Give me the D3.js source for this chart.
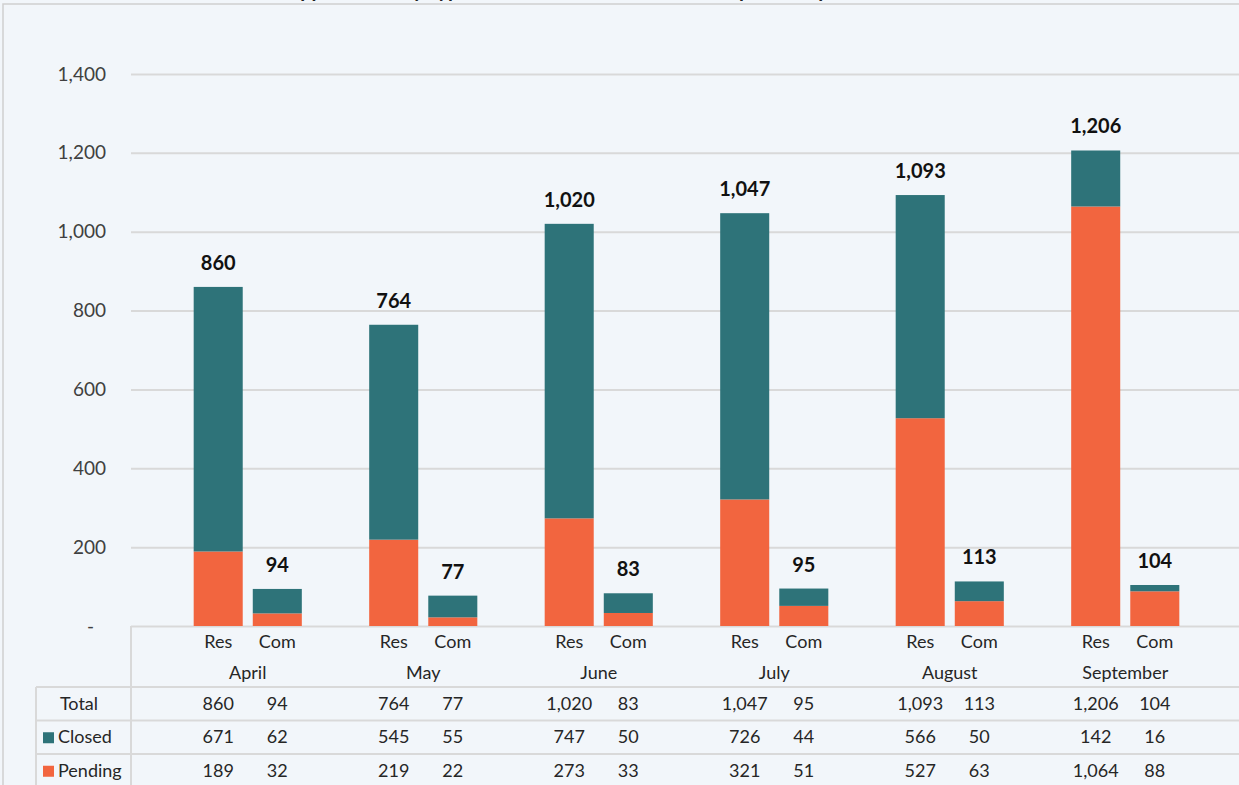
<html>
  <head>
    <meta charset="utf-8">
    <title>Residential vs Commercial by month</title>
    <style>
      body {
        margin: 0;
        background: #f2f6fa;
      }
      svg text {
        font-family: Lato, "Open Sans", sans-serif;
      }
    </style>
    <script src="https://d3js.org/d3.v7.min.js"></script>
  </head>
  <body>
    <svg id="chart"></svg>
    <script>
      // values
      let months = ['April', 'May', 'June', 'July', 'August', 'September'];
      let types = ['Res', 'Com'];
      let closedRes = [671, 545, 747, 726, 566, 142];
      let closedCom = [62, 55, 50, 44, 50, 16];
      let pendingRes = [189, 219, 273, 321, 527, 1064];
      let pendingCom = [32, 22, 33, 51, 63, 88];
      let yTicks = [0, 200, 400, 600, 800, 1000, 1200, 1400];
      let seriesNames = ['Pending', 'Closed'];

      let width = 1239;
      let height = 785;
      let plotLeft = 131;
      let plotTop = 74;
      let plotBottom = 626;
      let lineColor = '#d9d9d9';
      let colors = { Closed: '#2e7379', Pending: '#f2653f' };

      let svg = d3.select('#chart')
        .attr('width', width)
        .attr('height', height);

      // outer frame of the chart area (top and left edges visible)
      svg.append('path')
        .attr('d', `M3,${height} V4 H${width}`)
        .attr('fill', 'none')
        .attr('stroke', '#d0d0d0')
        .attr('stroke-width', 1.5);

      // title, mostly cut off above the picture
      svg.append('text')
        .attr('x', 590)
        .attr('y', -3)
        .attr('text-anchor', 'middle')
        .style('font-weight', 'bold')
        .style('font-size', '20px')
        .attr('fill', '#222')
        .text('Applications by Type, Residential vs. Commercial, April to September');

      // one row per bar: month + type, with closed / pending parts
      let rows = [];
      months.forEach((m, i) => {
        rows.push({ month: m, type: 'Res', Closed: closedRes[i], Pending: pendingRes[i] });
        rows.push({ month: m, type: 'Com', Closed: closedCom[i], Pending: pendingCom[i] });
      });
      rows.forEach(r => { r.total = r.Closed + r.Pending; });

      let x0 = d3.scaleBand()
        .domain(months)
        .range([160, 1213]);
      let x1 = d3.scaleBand()
        .domain(types)
        .range([0, x0.bandwidth()])
        .paddingInner(0.17)
        .paddingOuter(0.57);
      let y = d3.scaleLinear()
        .domain([0, 1400])
        .range([plotBottom, plotTop]);

      let barX = d => x0(d.month) + x1(d.type);
      let barMid = d => barX(d) + x1.bandwidth() / 2;

      // y axis with gridlines
      let yAxis = svg.append('g')
        .attr('transform', `translate(${plotLeft},0)`)
        .call(d3.axisLeft(y)
          .tickValues(yTicks)
          .tickSize(-(width - plotLeft))
          .tickPadding(25)
          .tickFormat(d => d === 0 ? '-' : d3.format(',')(d)));
      yAxis.select('.domain').remove();
      yAxis.selectAll('line')
        .attr('stroke', lineColor)
        .attr('stroke-width', 2);
      yAxis.selectAll('text')
        .attr('fill', '#404040')
        .style('font-size', '19px')
        .attr('dx', d => d === 0 ? -12 : 0);

      // stacked bars
      let stacked = d3.stack().keys(seriesNames)(rows);
      svg.append('g')
        .selectAll('g')
        .data(stacked)
        .join('g')
        .attr('fill', s => colors[s.key])
        .selectAll('rect')
        .data(s => s)
        .join('rect')
        .attr('x', d => barX(d.data))
        .attr('width', x1.bandwidth())
        .attr('y', d => y(d[1]))
        .attr('height', d => y(d[0]) - y(d[1]));

      // total labels above bars
      svg.append('g')
        .selectAll('text')
        .data(rows)
        .join('text')
        .attr('x', d => barMid(d))
        .attr('y', d => y(d.total) - 17)
        .attr('text-anchor', 'middle')
        .style('font-weight', 'bold')
        .style('font-size', '20px')
        .attr('fill', '#111')
        .text(d => d3.format(',')(d.total));

      // data table under the plot
      let table = svg.append('g');
      let rowTop = 687;
      let rowH = 33.5;
      let tableRows = ['Total', 'Closed', 'Pending'];

      table.append('line')
        .attr('x1', plotLeft).attr('x2', plotLeft)
        .attr('y1', plotBottom).attr('y2', height);
      table.append('line')
        .attr('x1', 36).attr('x2', 36)
        .attr('y1', rowTop).attr('y2', height);
      tableRows.forEach((r, i) => {
        table.append('line')
          .attr('x1', 36).attr('x2', width)
          .attr('y1', rowTop + i * rowH).attr('y2', rowTop + i * rowH);
      });
      table.selectAll('line')
        .attr('stroke', lineColor)
        .attr('stroke-width', 2);

      // category labels
      table.selectAll('text.type')
        .data(rows)
        .join('text')
        .attr('class', 'type')
        .attr('x', d => barMid(d))
        .attr('y', 648)
        .attr('text-anchor', 'middle')
        .style('font-size', '18px')
        .attr('fill', '#262626')
        .text(d => d.type);
      table.selectAll('text.month')
        .data(months)
        .join('text')
        .attr('class', 'month')
        .attr('x', m => x0(m) + x0.bandwidth() / 2)
        .attr('y', 679)
        .attr('text-anchor', 'middle')
        .style('font-size', '18px')
        .attr('fill', '#262626')
        .text(m => m);

      // row headers with legend keys
      tableRows.forEach((r, i) => {
        let cy = rowTop + i * rowH + rowH / 2;
        if (r === 'Total') {
          table.append('text')
            .attr('x', 79).attr('y', cy + 6)
            .attr('text-anchor', 'middle')
            .style('font-size', '18px')
            .attr('fill', '#262626')
            .text(r);
        } else {
          table.append('rect')
            .attr('x', 43).attr('y', cy - 5)
            .attr('width', 11).attr('height', 11)
            .attr('fill', colors[r]);
          table.append('text')
            .attr('x', 58).attr('y', cy + 6)
            .style('font-size', '18px')
            .attr('fill', '#262626')
            .text(r);
        }
        let key = r === 'Total' ? 'total' : r;
        table.append('g')
          .selectAll('text')
          .data(rows)
          .join('text')
          .attr('x', d => barMid(d))
          .attr('y', cy + 6)
          .attr('text-anchor', 'middle')
          .style('font-size', '18px')
          .attr('fill', '#262626')
          .text(d => d3.format(',')(d[key]));
      });
    </script>
  </body>
</html>
